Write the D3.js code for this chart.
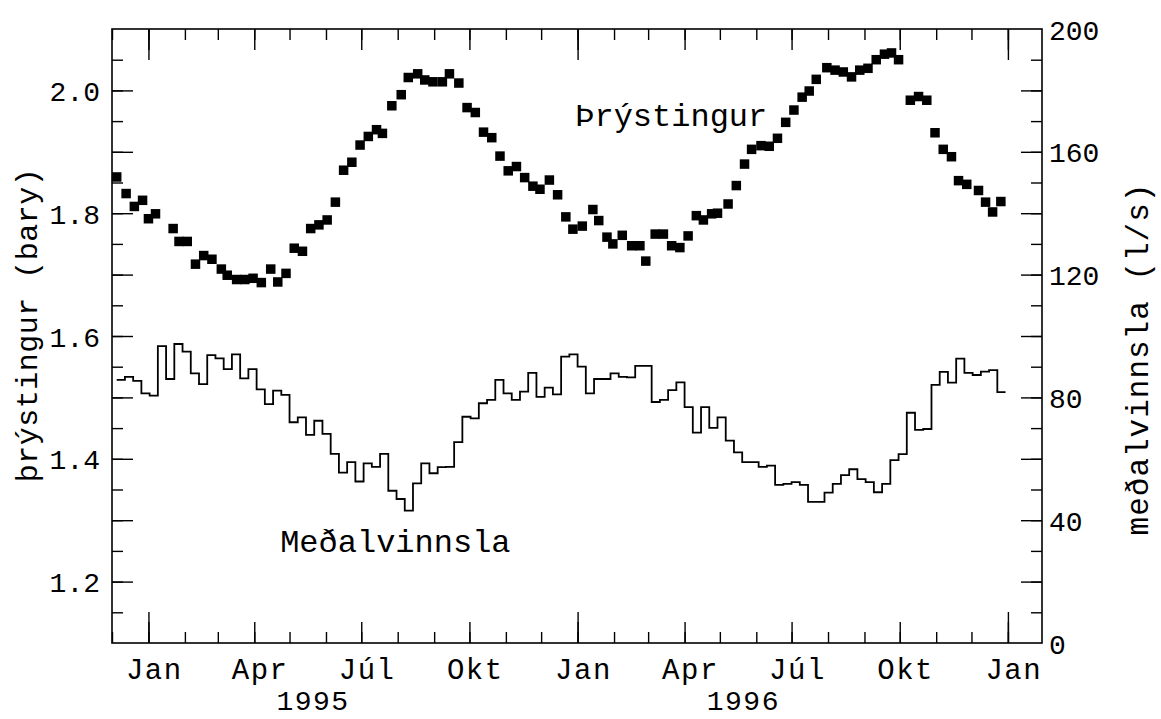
<!DOCTYPE html>
<html>
<head>
<meta charset="utf-8">
<script src="https://cdn.jsdelivr.net/npm/d3@7"></script>
<style>
  html, body { margin: 0; padding: 0; background: #fff; }
  svg { display: block; }
</style>
</head>
<body>
<svg id="chart" width="1161" height="719"></svg>
<script>
// ---------- data ----------
// pressure samples: day offset from 1995-01-01, value in bar
const pressureDay = [
  -27,-19,-12,-5,0,6,21,26,33,40,
  47,54,62,67,75,82,89,96,104,110,
  117,124,131,138,145,152,159,166,173,180,
  187,194,199,207,215,221,229,235,242,250,
  256,264,271,278,285,292,299,306,313,320,
  327,333,341,348,355,361,369,378,383,390,
  395,403,411,418,423,431,438,445,452,459,
  466,472,479,484,493,500,507,513,521,528,
  535,542,549,556,562,568,577,584,591,598,
  605,612,619,626,632,638,648,655,662,669,
  676,683,689,696,706,712,718,725
];
const pressureValue = [
  1.859,1.832,1.811,1.821,1.791,1.799,1.775,1.754,1.754,1.717,
  1.731,1.725,1.709,1.699,1.692,1.692,1.694,1.687,1.709,1.688,
  1.702,1.743,1.738,1.775,1.781,1.789,1.818,1.870,1.883,1.911,
  1.925,1.936,1.930,1.975,1.993,2.021,2.027,2.017,2.014,2.014,
  2.027,2.012,1.972,1.964,1.932,1.923,1.893,1.869,1.876,1.858,
  1.844,1.839,1.854,1.830,1.794,1.774,1.779,1.806,1.788,1.761,
  1.750,1.764,1.747,1.747,1.722,1.766,1.766,1.747,1.744,1.763,
  1.796,1.789,1.799,1.800,1.815,1.845,1.880,1.904,1.910,1.909,
  1.922,1.948,1.968,1.989,1.999,2.018,2.037,2.033,2.030,2.022,
  2.033,2.036,2.050,2.059,2.061,2.050,1.984,1.990,1.984,1.931,
  1.904,1.892,1.853,1.847,1.837,1.818,1.802,1.819
];
// weekly mean production (l/s), first week starts at day offset flowStartDay
const flowStartDay = -27;
const flowStepDays = 7;
const flowValue = [
  85.7,86.7,85.4,81.3,80.6,96.7,86.0,97.4,94.9,87.8,
  84.3,93.8,92.7,89.2,94.0,86.2,89.2,82.6,77.8,82.2,
  80.8,71.9,73.5,67.8,72.4,68.1,61.6,55.5,58.9,52.6,
  58.5,57.4,61.6,49.6,46.9,43.1,52.0,58.5,55.3,57.3,
  57.4,65.4,73.7,73.2,78.1,79.2,85.7,81.3,79.2,81.9,
  88.0,80.2,83.2,81.0,93.3,94.0,90.0,81.3,86.0,86.0,
  87.8,86.7,86.5,90.3,90.3,78.5,79.2,82.4,84.9,76.8,
  68.5,76.8,70.1,73.5,65.9,62.1,58.9,58.9,57.4,57.8,
  51.5,51.8,52.4,51.5,46.0,46.0,49.0,51.8,54.7,56.6,
  53.4,52.4,49.1,51.8,59.6,61.5,75.0,69.4,69.7,84.1,
  88.3,84.8,92.6,88.0,87.3,88.4,88.9,81.7
];
// axis labels
const monthNames = ["Jan","Apr","Júl","Okt"];
const yearLabels = ["1995","1996"];
const leftTickLabels = [1.2,1.4,1.6,1.8,2.0];
const rightTickLabels = [0,40,80,120,160,200];
const leftTitle = "þrýstingur (bary)";
const rightTitle = "meðalvinnsla (l/s)";
const pressureLabel = "Þrýstingur";
const flowLabel = "Meðalvinnsla";

// ---------- layout ----------
const FONT = "'Liberation Mono', 'DejaVu Sans Mono', monospace";
const L = 112, R = 1042, T = 29, B = 643;
const base = Date.UTC(1995,0,1);
const DAY = 86400000;
const dayToDate = d => new Date(base + d*DAY);

const x = d3.scaleUtc()
  .domain([new Date(Date.UTC(1994,11,1)), new Date(Date.UTC(1997,0,30))])
  .range([L, R]);
const yL = d3.scaleLinear().domain([1.1, 2.1]).range([B, T]);
const yR = d3.scaleLinear().domain([0, 200]).range([B, T]);

const svg = d3.select("#chart");

// ---------- ticks ----------
const months = d3.utcMonth.range(new Date(Date.UTC(1994,11,1)), new Date(Date.UTC(1997,0,31)));
const quarters = months.filter(d => d.getUTCMonth() % 3 === 0);
const jans = months.filter(d => d.getUTCMonth() === 0);

function styleAxis(g) {
  g.select(".domain").remove();
  g.selectAll(".tick line").attr("stroke", "#000").attr("stroke-width", 1.4);
  g.selectAll("text").attr("font-family", FONT).attr("fill", "#000");
}

[[months, 11], [quarters, 21], [jans, 31]].forEach(([vals, len]) => {
  svg.append("g").attr("transform", `translate(0,${B})`)
    .call(d3.axisBottom(x).tickValues(vals).tickSize(-len).tickFormat(""))
    .call(styleAxis);
  svg.append("g").attr("transform", `translate(0,${T})`)
    .call(d3.axisTop(x).tickValues(vals).tickSize(-len).tickFormat(""))
    .call(styleAxis);
});

const leftMinor = d3.range(22).map(i => +(1.1 + i*0.05).toFixed(2)).filter(v => v > 1.1 && v < 2.1);
const leftMajor = d3.range(11).map(i => +(1.1 + i*0.1).toFixed(1)).filter(v => v > 1.1 && v < 2.1);
svg.append("g").attr("transform", `translate(${L},0)`)
  .call(d3.axisLeft(yL).tickValues(leftMinor).tickSize(-11).tickFormat("")).call(styleAxis);
svg.append("g").attr("transform", `translate(${L},0)`)
  .call(d3.axisLeft(yL).tickValues(leftMajor).tickSize(-21).tickFormat("")).call(styleAxis);
svg.append("g").attr("transform", `translate(${L},0)`)
  .call(d3.axisLeft(yL).tickValues(leftTickLabels).tickSize(0).tickPadding(12).tickFormat(d3.format(".1f")))
  .call(styleAxis)
  .call(g => g.selectAll("text").attr("font-size", 28).attr("dy", "0.36em"));

const rightMinor = d3.range(10, 200, 10);
const rightMajor = d3.range(20, 200, 20);
svg.append("g").attr("transform", `translate(${R},0)`)
  .call(d3.axisRight(yR).tickValues(rightMinor).tickSize(-11).tickFormat("")).call(styleAxis);
svg.append("g").attr("transform", `translate(${R},0)`)
  .call(d3.axisRight(yR).tickValues(rightMajor).tickSize(-21).tickFormat("")).call(styleAxis);
svg.append("g").attr("transform", `translate(${R},0)`)
  .call(d3.axisRight(yR).tickValues(rightTickLabels).tickSize(0).tickPadding(7).tickFormat(d3.format("d")))
  .call(styleAxis)
  .call(g => g.selectAll("text").attr("font-size", 28).attr("dy", "0.36em"));

// month labels (centred a few days after each quarter-month tick)
const qLabelDates = quarters.filter(d => d >= new Date(Date.UTC(1995,0,1)));
svg.append("g").selectAll("text").data(qLabelDates).join("text")
  .attr("x", d => x(new Date(d.getTime() + 5*DAY)))
  .attr("y", 679)
  .attr("text-anchor", "middle")
  .attr("font-family", FONT).attr("font-size", 29).attr("letter-spacing", 1.5)
  .text(d => monthNames[d.getUTCMonth()/3]);

svg.append("g").selectAll("text").data(yearLabels).join("text")
  .attr("x", d => x(new Date(Date.UTC(+d,4,21))))
  .attr("y", 710)
  .attr("text-anchor", "middle")
  .attr("font-family", FONT).attr("font-size", 28).attr("letter-spacing", 1.5)
  .text(d => d);

// axis titles
svg.append("text")
  .attr("transform", `translate(37,325) rotate(-90)`)
  .attr("text-anchor", "middle")
  .attr("font-family", FONT).attr("font-size", 30).attr("letter-spacing", 0.5)
  .text(leftTitle);
svg.append("text")
  .attr("transform", `translate(1148,359) rotate(-90)`)
  .attr("text-anchor", "middle")
  .attr("font-family", FONT).attr("font-size", 31).attr("letter-spacing", 1)
  .text(rightTitle);

// frame
svg.append("rect").attr("x", L).attr("y", T).attr("width", R-L).attr("height", B-T)
  .attr("fill", "none").attr("stroke", "#000").attr("stroke-width", 1.6);

// ---------- flow step line ----------
const flowPts = flowValue.map((v, i) => ({ d: dayToDate(flowStartDay + i*flowStepDays), v }));
flowPts.push({ d: dayToDate(flowStartDay + flowValue.length*flowStepDays), v: flowValue[flowValue.length-1] });
svg.append("path")
  .datum(flowPts)
  .attr("fill", "none").attr("stroke", "#000").attr("stroke-width", 1.8)
  .attr("d", d3.line().curve(d3.curveStepAfter).x(p => x(p.d)).y(p => yR(p.v)));

// ---------- pressure squares ----------
const S = 9.5;
svg.append("g").selectAll("rect").data(pressureDay.map((d, i) => ({ d: dayToDate(d), v: pressureValue[i] })))
  .join("rect")
  .attr("x", p => x(p.d) - S/2).attr("y", p => yL(p.v) - S/2)
  .attr("width", S).attr("height", S).attr("fill", "#000");

// series labels
svg.append("text").attr("x", x(dayToDate(363))).attr("y", 126)
  .attr("font-family", FONT).attr("font-size", 32)
  .text(pressureLabel);
svg.append("text").attr("x", x(dayToDate(112))).attr("y", 552)
  .attr("font-family", FONT).attr("font-size", 32)
  .text(flowLabel);
</script>
</body>
</html>
